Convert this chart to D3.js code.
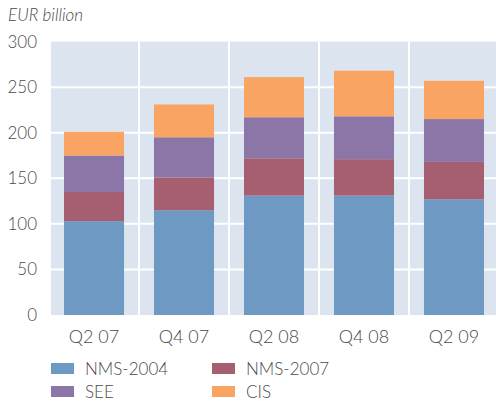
<!DOCTYPE html>
<html>
<head>
<meta charset="utf-8">
<script src="https://cdn.jsdelivr.net/npm/d3@7"></script>
<style>
  body { margin: 0; background: #fff; }
  text { font-family: Lato, "Open Sans", sans-serif; fill: #4a4a4a; font-weight: 300; }
</style>
</head>
<body>
<div id="chart"></div>
<script>
var quarters = ["Q2 07", "Q4 07", "Q2 08", "Q4 08", "Q2 09"];
var seriesNames = ["NMS-2004", "NMS-2007", "SEE", "CIS"];
var nms2004 = [103, 115, 131, 131, 127];
var nms2007 = [32, 36, 41, 40, 41];
var see = [40, 44, 45, 47, 47];
var cis = [26, 36, 44, 50, 42];
var yTicks = [0, 50, 100, 150, 200, 250, 300];
var colors = ["#6e99c3", "#a65f70", "#8c75a7", "#f9a463"];

var width = 496, height = 403;
var svg = d3.select("#chart").append("svg")
  .attr("width", width)
  .attr("height", height);

// build rows for the stack
var rows = quarters.map(function(q, i) {
  return { q: q, "NMS-2004": nms2004[i], "NMS-2007": nms2007[i], "SEE": see[i], "CIS": cis[i] };
});

var x = d3.scaleBand().domain(quarters).range([49, 499]).paddingInner(0.333).paddingOuter(0.1667);
var y = d3.scaleLinear().domain([0, 300]).range([315, 41.6]);

// plot background
svg.append("rect")
  .attr("x", 51).attr("y", y(300))
  .attr("width", width - 51).attr("height", y(0) - y(300))
  .style("fill", "#dbe4ef");

// horizontal grid
svg.selectAll(".hgrid")
  .data(yTicks.filter(function(d) { return d > 0 && d < 300; }))
  .enter().append("line")
  .attr("x1", 51).attr("x2", width)
  .attr("y1", function(d) { return y(d); })
  .attr("y2", function(d) { return y(d); })
  .style("stroke", "#fff").style("stroke-width", 2);

// vertical grid between categories
var step = x.step();
svg.selectAll(".vgrid")
  .data(quarters.slice(1))
  .enter().append("line")
  .attr("x1", function(d) { return x(d) - (step - x.bandwidth()) / 2; })
  .attr("x2", function(d) { return x(d) - (step - x.bandwidth()) / 2; })
  .attr("y1", y(300)).attr("y2", y(0))
  .style("stroke", "#fff").style("stroke-width", 2);

var stacked = d3.stack().keys(seriesNames)(rows);

svg.selectAll(".layer")
  .data(stacked)
  .enter().append("g")
  .attr("class", "layer")
  .style("fill", function(d, i) { return colors[i]; })
  .selectAll("rect")
  .data(function(d) { return d; })
  .enter().append("rect")
  .attr("x", function(d) { return x(d.data.q); })
  .attr("width", x.bandwidth())
  .attr("y", function(d) { return y(d[1]); })
  .attr("height", function(d) { return y(d[0]) - y(d[1]); });

// y axis labels
var yAxis = svg.append("g")
  .attr("transform", "translate(37,0)")
  .call(d3.axisLeft(y).tickValues(yTicks).tickSize(0).tickPadding(0));
yAxis.select(".domain").remove();
yAxis.selectAll("text")
  .style("font-size", "17px")
  .style("fill", "#4a4a4a")
  .style("font-family", "Lato, 'Open Sans', sans-serif");

// x axis labels
var xAxis = svg.append("g")
  .attr("transform", "translate(0," + 315 + ")")
  .call(d3.axisBottom(x).tickSize(0).tickPadding(15));
xAxis.select(".domain").remove();
xAxis.selectAll("text")
  .style("font-size", "18px")
  .style("fill", "#4a4a4a")
  .style("font-family", "Lato, 'Open Sans', sans-serif");

// unit label
svg.append("text")
  .attr("x", 8).attr("y", 21)
  .style("font-size", "17px")
  .style("font-style", "italic")
  .text("EUR billion");

// legend
var legend = svg.selectAll(".legend")
  .data(seriesNames)
  .enter().append("g")
  .attr("transform", function(d, i) {
    return "translate(" + (i % 2 === 0 ? 51 : 212) + "," + (i < 2 ? 363 : 386) + ")";
  });
legend.append("rect")
  .attr("width", 23).attr("height", 11)
  .style("fill", function(d, i) { return colors[i]; });
legend.append("text")
  .attr("x", 34).attr("y", 12)
  .style("font-size", "17px")
  .text(function(d) { return d; });
</script>
</body>
</html>
